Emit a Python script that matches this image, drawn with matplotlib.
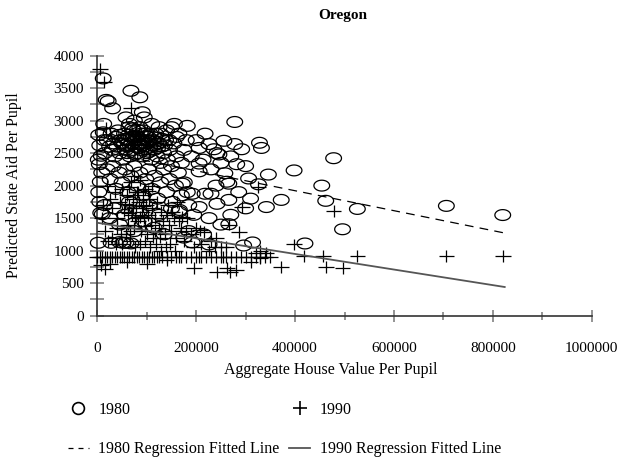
import numpy as np
import matplotlib
matplotlib.use("Agg")
import matplotlib.pyplot as plt
from matplotlib.path import Path
from matplotlib.lines import Line2D
from matplotlib.ticker import MultipleLocator

plt.rcParams['font.family'] = ['Liberation Serif', 'DejaVu Serif']

# 1980 districts: house value per pupil (thousands), predicted aid per pupil
hv80_k = [12, 18, 22, 68, 86, 31, 91, 278,
          3, 5, 8, 4, 6, 3, 7, 2, 10, 12, 14, 9, 15, 13, 2, 5,
          20, 25, 28, 30, 33, 35, 38, 40, 42, 45, 47, 50, 52, 55, 57, 60, 62, 64, 66, 68,
          70, 72, 74, 76, 78, 80, 82, 84, 86, 88, 90, 92, 94, 96, 98, 100, 103, 106, 109,
          112, 115, 118, 121, 124, 127, 130, 134, 138, 142, 146, 150, 155, 160, 165, 170,
          175, 180, 58, 75, 95, 65, 110, 125, 140, 150, 160,
          44, 54, 63, 71, 79, 87, 93, 101, 107, 113, 119, 57, 67, 77, 83, 89, 97, 104, 116,
          122, 131, 136, 61, 73, 81, 91, 99, 105, 128, 145,
          20, 26, 32, 38, 44, 50, 56, 62, 68, 74, 80, 86, 92, 98, 104, 110, 116, 122, 128,
          134, 140, 146, 152, 158, 164, 170, 176, 182,
          15, 25, 35, 45, 55, 65, 75, 85, 95, 105, 115, 125, 135, 150, 165, 175, 28, 52, 58,
          68, 45, 185, 195, 192, 226, 296, 314,
          182, 156, 218, 226, 246, 236, 206, 256, 242, 278, 292, 328, 332, 206, 282, 258,
          306, 266, 326, 346, 206, 262, 192, 218, 230, 172, 190, 200, 214, 230, 250, 270,
          300, 240, 286, 310, 206, 242, 266, 342, 372, 166, 226, 270, 250, 300, 266, 185, 215,
          398, 478, 454, 462, 526, 496, 706, 820, 420]
aid80 = [3650, 3320, 3300, 3460, 3360, 3190, 3130, 2980,
         2780, 2620, 2460, 2330, 2060, 1900, 1580, 1120, 1560, 2820, 2700, 2200, 2500, 2950, 2400, 1750,
         2700, 2600, 2800, 2550, 2650, 2450, 2750, 2600, 2850, 2500, 2700, 2650, 2400, 2800, 2550, 2700, 2600, 2900, 2450, 2750,
         2650, 2550, 2850, 2700, 2600, 2500, 2750, 2650, 2900, 2550, 2700, 2450, 2600, 2800, 2650, 2500, 2750, 2600, 2400,
         2700, 2550, 2800, 2450, 2650, 2350, 2600, 2500, 2700, 2400, 2550, 2300, 2650, 2450, 2800, 2350,
         2550, 2700, 3050, 3000, 3050, 2950, 2950, 2900, 2850, 2900, 2750,
         2780, 2620, 2780, 2880, 2770, 2640, 2850, 2700, 2800, 2620, 2680, 2720, 2620, 2480, 2580, 2800, 2560, 2680, 2740,
         2580, 2720, 2620, 2500, 2760, 2860, 2620, 2760, 2520, 2800, 2700,
         2250, 2100, 2300, 1950, 2200, 2050, 2250, 1900, 2150, 2300, 2000, 2200, 1850, 2100, 2250, 1950, 2150, 1800, 2050,
         2250, 1900, 2100, 1750, 2000, 2200, 1850, 2050, 1900,
         1700, 1500, 1650, 1400, 1550, 1750, 1300, 1600, 1450, 1700, 1350, 1550, 1250, 1650, 1600, 1200, 1120, 1120, 1120,
         1110, 1130, 1700, 1550, 1125, 1094, 1078, 1125,
         2920, 2950, 2800, 2640, 2480, 2560, 2580, 2690, 2500, 2640, 2560, 2660, 2580, 2340, 2330, 2190,
         2110, 2030, 2020, 2170, 2220, 2060, 1875, 1875, 1875, 2030, 2450, 2700, 2400, 2250, 2350, 2450,
         2300, 2000, 1900, 1800, 1670, 1720, 1780, 1670, 1780, 1625, 1500, 1550, 1400, 1650, 1406, 1300, 1250,
         2234, 2422, 2000, 1766, 1641, 1328, 1688, 1547, 1109]

# 1990 districts
hv90_k = [6, 13, 68, 82, 18, 78,
          20, 25, 30, 35, 40, 45, 50, 55, 60, 62, 65, 68, 70, 72, 75, 78, 80, 82, 85, 88, 90,
          92, 95, 98, 100, 102, 105, 108, 110, 113, 116, 120, 124, 128, 132, 136, 140, 145,
          150, 155, 160, 165, 170, 175, 180, 190, 200, 208, 215, 172, 182, 238, 250, 260, 240,
          286, 266, 292, 230, 225, 195, 210,
          30, 40, 50, 15, 10, 12, 22, 58, 66, 76, 86, 96, 106, 118, 128, 138, 148, 158,
          74, 86, 96, 110, 64, 57, 63, 73, 83, 93, 103, 77, 87, 97, 67, 47, 37, 117, 127,
          142, 152, 162,
          0, 5, 10, 15, 20, 25, 30, 35, 40, 45, 50, 55, 60, 65, 70, 75, 80, 85, 90, 95, 100,
          105, 110, 115, 120, 125, 130, 140, 150, 160, 165, 170, 180, 190, 200, 205, 210, 220,
          230, 240, 250, 255, 260, 270, 280, 290, 300, 310, 320, 330, 340, 350,
          418, 456, 526, 706, 820,
          15, 25, 60, 100, 140, 196, 242, 262, 268, 372, 462, 496, 280, 310, 330, 8,
          478, 398, 342, 326, 330, 320]
aid90 = [3800, 3600, 3190, 2770, 2890, 2800,
         2000, 1800, 1650, 1900, 1500, 1750, 1950, 1600, 1850, 1400, 1700, 2050, 1550, 1800, 1350, 1650, 1900, 1450, 1750, 1300, 1600,
         1850, 1500, 1700, 1250, 1550, 1800, 1400, 1650, 1200, 1500, 1750, 1350, 1600, 1450, 1250, 1550, 1400,
         1300, 1500, 1200, 1450, 1350, 1150, 1300, 1250, 1350, 1310, 1280, 1520, 1500, 1050, 1050, 1050, 1200,
         1280, 1400, 1670, 1150, 1000, 1050, 1100,
         1200, 1350, 1100, 1300, 1500, 1700, 1150, 1250, 1150, 1050, 1100, 1150, 1050, 1100, 1000, 1050, 1100, 1000,
         2150, 2080, 1950, 2000, 1980, 1720, 1580, 1660, 1900, 1680, 1920, 1500, 1520, 1380, 1300, 1250, 1100, 1300, 1200,
         1700, 1600, 1750,
         900, 900, 900, 900, 900, 900, 900, 900, 900, 900, 900, 900, 900, 900, 900, 900, 900, 900, 900, 900, 900,
         900, 900, 900, 900, 900, 900, 900, 900, 900, 900, 900, 900, 900, 900, 900, 900, 900,
         900, 900, 900, 900, 900, 900, 900, 900, 900, 900, 900, 900, 900, 900,
         920, 920, 920, 920, 920,
         720, 800, 820, 800, 850, 734, 672, 734, 672, 750, 750, 734, 700, 820, 880, 780,
         1609, 1094, 969, 1984, 1000, 960]

# fitted regression lines, read at x = 0 and x = 824000
fit_x = [0, 824000]
fit80 = [2536, 1270]
fit90 = [1428, 439]

theta = np.linspace(0, 2 * np.pi, 61)
ellipse = Path(np.column_stack([1.45 * np.cos(theta), np.sin(theta)]), closed=True)
plus = Path([(-1, 0), (1, 0), (0, -0.75), (0, 0.75)],
            [Path.MOVETO, Path.LINETO, Path.MOVETO, Path.LINETO])

fig = plt.figure(figsize=(6.33, 4.59), dpi=100)
ax = fig.add_axes([0.1537, 0.3126, 0.7811, 0.566])

ax.scatter(np.array(hv80_k) * 1000, aid80, s=128, marker=ellipse,
           facecolors='none', edgecolors='black', linewidths=0.9, clip_on=False, zorder=3)
ax.scatter(np.array(hv90_k) * 1000, aid90, s=128, marker=plus,
           facecolors='none', edgecolors='black', linewidths=0.9, clip_on=False, zorder=4)
ax.plot(fit_x, fit80, color='black', lw=0.9, linestyle=(0, (7, 5)), zorder=5)
ax.plot(fit_x, fit90, color='#555555', lw=1.3, zorder=5)

ax.set_xlim(0, 1000000)
ax.set_ylim(0, 4000)
ax.xaxis.set_major_locator(MultipleLocator(200000))
ax.xaxis.set_minor_locator(MultipleLocator(100000))
ax.yaxis.set_major_locator(MultipleLocator(500))
ax.yaxis.set_minor_locator(MultipleLocator(250))
ax.ticklabel_format(style='plain', useOffset=False)

for s in ['top', 'right']:
    ax.spines[s].set_visible(False)
for s in ['left', 'bottom']:
    ax.spines[s].set_color('#333333')
    ax.spines[s].set_linewidth(1.2)

ax.tick_params(axis='x', which='major', direction='inout', length=8.5, width=1.1,
               color='#777777', pad=15, labelsize=11)
ax.tick_params(axis='x', which='minor', direction='inout', length=6, width=1.1, color='#777777')
ax.tick_params(axis='y', which='both', direction='inout', length=10, width=1.1,
               color='#777777', pad=4.5, labelsize=11)

ax.set_xlabel('Aggregate House Value Per Pupil', fontsize=11.5)
ax.xaxis.set_label_coords(0.473, -0.18)
ax.set_ylabel('Predicted State Aid Per Pupil', fontsize=11.5)
ax.yaxis.set_label_coords(-0.152, 0.5)

fig.text(0.542, 0.966, 'Oregon', ha='center', va='center', fontsize=11, fontweight='bold')

handles = [
    Line2D([], [], marker='o', ms=8.5, mfc='none', mec='black', mew=1.2, ls='none'),
    Line2D([], [], color='black', lw=0.9, linestyle=(0, (4, 4))),
    Line2D([], [], marker='+', ms=10, mec='black', mew=1.2, ls='none'),
    Line2D([], [], color='#555555', lw=1.3),
]
labels = ['1980', '1980 Regression Fitted Line', '1990', '1990 Regression Fitted Line']
fig.legend(handles, labels, loc='upper left', bbox_to_anchor=(0.1074, 0.124), ncol=2,
           frameon=False, fontsize=11.5, handlelength=1.3, handletextpad=0.6,
           columnspacing=0.6, labelspacing=1.45, borderpad=0, borderaxespad=0)

fig.savefig('out.png', dpi=100)
